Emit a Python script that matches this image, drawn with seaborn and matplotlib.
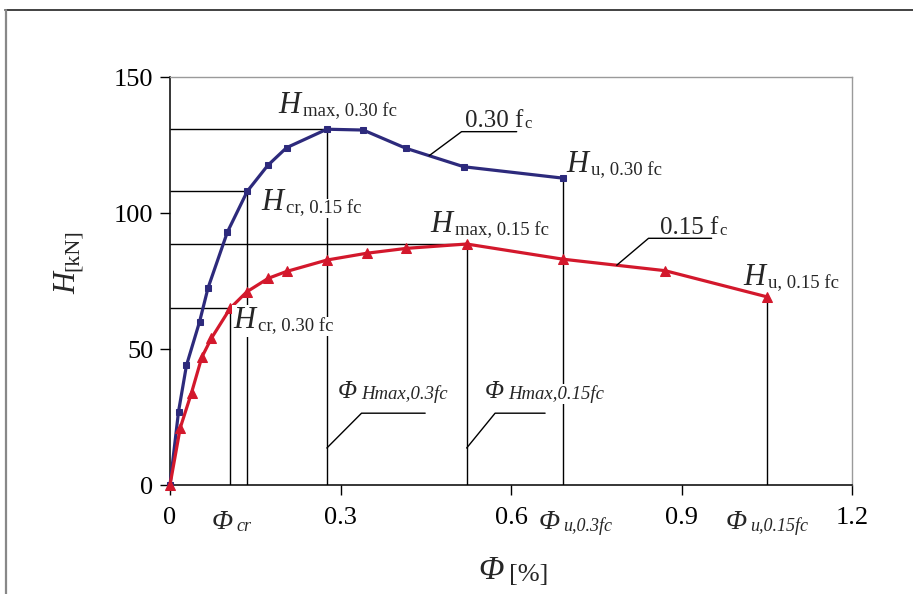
import numpy as np
import matplotlib
matplotlib.use('Agg')
import matplotlib.pyplot as plt
from matplotlib.lines import Line2D
import seaborn as sns

# Horizontal load H [kN] vs drift ratio Phi [%]
# 0.30 fc series (blue, square markers)
phi_030 = [0, 0.015, 0.029, 0.052, 0.067, 0.101, 0.136, 0.172, 0.205, 0.276, 0.340, 0.415, 0.517, 0.692]
h_030 = [0, 27, 44, 60, 72.5, 93, 108, 117.5, 124, 130.8, 130.5, 123.8, 117, 112.8]

# 0.15 fc series (red, triangle markers)
phi_015 = [0, 0.018, 0.038, 0.056, 0.073, 0.106, 0.135, 0.173, 0.205, 0.276, 0.346, 0.416, 0.522, 0.692, 0.871, 1.05]
h_015 = [0, 21, 34, 47, 54, 65, 71, 76, 78.5, 82.7, 85.2, 87, 88.6, 83, 78.8, 69.2]

x_ticks = [0, 0.3, 0.6, 0.9, 1.2]
x_tick_labels = ['0', '0.3', '0.6', '0.9', '1.2']
y_ticks = [0, 50, 100, 150]
y_tick_labels = ['0', '50', '100', '150']

blue = '#2d2a7c'
red = '#d3182c'

sns.set_theme(style='ticks')
plt.rcParams['font.family'] = ['Liberation Serif', 'DejaVu Serif']

fig = plt.figure(figsize=(9.13, 5.94), dpi=100)
ax = fig.add_axes([170 / 913, 1 - 485 / 594, (852 - 170) / 913, (485 - 77) / 594])

# curves
sns.lineplot(x=phi_030, y=h_030, ax=ax, color=blue, marker='s', markersize=4.5,
             markeredgecolor=blue, linewidth=2.3, sort=False, estimator=None,
             clip_on=False, zorder=3)
sns.lineplot(x=phi_015, y=h_015, ax=ax, color=red, marker='^', markersize=7,
             markeredgecolor=red, linewidth=2.3, sort=False, estimator=None,
             clip_on=False, zorder=3)

# characteristic points: cracking, max and ultimate
pts_h = [(phi_030[9], h_030[9]), (phi_030[6], h_030[6]),
         (phi_015[12], h_015[12]), (phi_015[5], h_015[5])]
pts_v = pts_h + [(phi_030[-1], h_030[-1]), (phi_015[-1], h_015[-1])]
for px, py in pts_h:
    ax.hlines(py, 0, px, color='black', lw=1, zorder=1)
for px, py in pts_v:
    ax.vlines(px, 0, py, color='black', lw=1, zorder=1)


def sub_label(x, y, main, sub, size, sub_size, main_style='italic', sub_style='normal',
              trans=None, bg=False, gap=2):
    box = dict(boxstyle='square,pad=0.05', fc='white', ec='none') if bg else None
    t = ax.text(x, y, main, fontsize=size, fontstyle=main_style, ha='left', va='baseline',
                transform=trans if trans is not None else ax.transData, bbox=box, zorder=5)
    ax.annotate(sub, xy=(1, 0), xycoords=t, xytext=(gap, 0), textcoords='offset points',
                fontsize=sub_size, fontstyle=sub_style, ha='left', va='bottom',
                bbox=box, zorder=5)
    return t


# H labels
sub_label(0.19, 136.8, 'H', 'max, 0.30 fc', 22, 13.5)
sub_label(0.161, 101, 'H', 'cr, 0.15 fc', 22, 13.5, bg=True)
sub_label(0.111, 57.6, 'H', 'cr, 0.30 fc', 22, 13.5, bg=True)
sub_label(0.4575, 93.1, 'H', 'max, 0.15 fc', 22, 13.5)
sub_label(0.698, 115.2, 'H', 'u, 0.30 fc', 22, 13.5)
sub_label(1.009, 73.5, 'H', 'u, 0.15 fc', 22, 13.5)

# series labels with leader lines
sub_label(0.519, 131.7, '0.30 f', 'c', 18, 12, main_style='normal', gap=0.5)
sub_label(0.862, 92.3, '0.15 f', 'c', 18, 12, main_style='normal', gap=0.5)
x0 = 0.456
ax.plot([x0, 0.513, 0.61], [np.interp(x0, phi_030, h_030), 129.9, 129.9],
        color='black', lw=1, zorder=4)
x0 = 0.786
ax.plot([x0, 0.842, 0.953], [np.interp(x0, phi_015, h_015), 90.7, 90.7],
        color='black', lw=1, zorder=4)

# Phi at max load labels
sub_label(0.296, 31.9, 'Φ', 'Hmax,0.3fc', 18, 13.5, sub_style='italic', gap=3)
sub_label(0.554, 31.9, 'Φ', 'Hmax,0.15fc', 18, 13.5, sub_style='italic', bg=True, gap=3)
ax.plot([phi_030[9], 0.337, 0.449], [13.6, 26.4, 26.4], color='black', lw=1, zorder=4)
ax.plot([phi_015[12], 0.572, 0.66], [13.6, 26.4, 26.4], color='black', lw=1, zorder=4)

# extra labels along the x axis
bt = ax.get_xaxis_transform()
sub_label(0.074, -0.108, 'Φ', 'cr', 20, 13, sub_style='italic', trans=bt)
sub_label(0.649, -0.108, 'Φ', 'u,0.3fc', 20, 13, sub_style='italic', trans=bt)
sub_label(0.978, -0.108, 'Φ', 'u,0.15fc', 20, 13, sub_style='italic', trans=bt)

# axes
ax.set_xlim(0, 1.2)
ax.set_ylim(0, 150)
ax.set_xticks(x_ticks, x_tick_labels)
ax.set_yticks(y_ticks, y_tick_labels)
ax.tick_params(direction='out', length=7, width=1, colors='black', labelsize=19)
ax.tick_params(axis='x', pad=9)
ax.tick_params(axis='y', pad=5)
for s in ['left', 'bottom']:
    ax.spines[s].set_color('black')
    ax.spines[s].set_linewidth(1.1)
for s in ['top', 'right']:
    ax.spines[s].set_visible(True)
    ax.spines[s].set_color('#9a9a9a')
    ax.spines[s].set_linewidth(1)

# axis titles
xl = fig.text(478 / 913, 1 - 579 / 594, 'Φ', fontsize=24, fontstyle='italic', ha='left', va='baseline')
fig.texts[-1].axes = None
ax.annotate('[%]', xy=(1, 0), xycoords=xl, xytext=(4, 0), textcoords='offset points',
            fontsize=19, ha='left', va='bottom', annotation_clip=False)
yl = fig.text(68 / 913, 1 - 283 / 594, 'H', fontsize=22, fontstyle='italic', rotation=90,
              ha='center', va='center')
ax.annotate('[kN]', xy=(1, 1), xycoords=yl, xytext=(0, 1), textcoords='offset points',
            fontsize=16, rotation=90, ha='right', va='bottom', annotation_clip=False)

# outer frame of the picture
fig.add_artist(Line2D([5 / 913, 1], [1 - 9.5 / 594] * 2, color='#333333', lw=1.3,
                      transform=fig.transFigure))
fig.add_artist(Line2D([6 / 913] * 2, [0, 1 - 9.5 / 594], color='#888888', lw=1.6,
                      transform=fig.transFigure))

fig.savefig('out.png', dpi=100)
